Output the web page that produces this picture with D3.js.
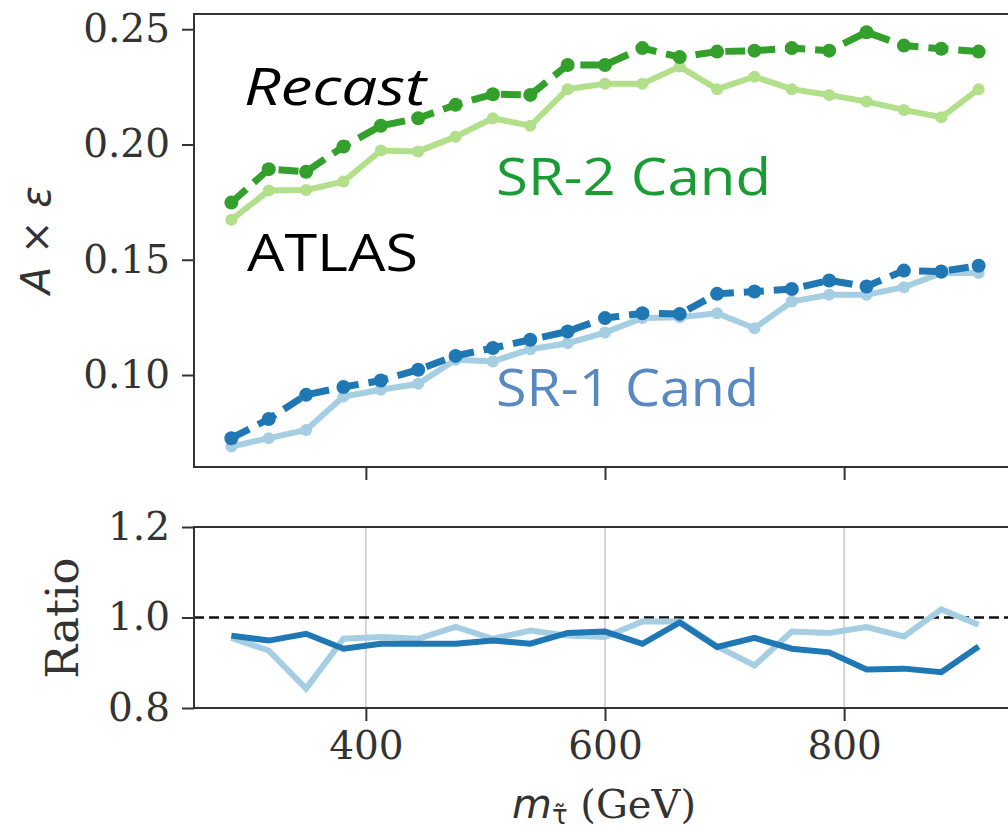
<!DOCTYPE html>
<html>
<head>
<meta charset="utf-8">
<script src="https://cdn.jsdelivr.net/npm/d3@7"></script>
<style>
  body { margin: 0; background: #fff; }
  svg { display: block; }
  .tick text { font-family: "DejaVu Serif", serif; font-size: 39px; fill: #333; }
  .tick line { stroke: #333; stroke-width: 2; }
  .domain { display: none; }
</style>
</head>
<body>
<div id="chart"></div>
<script>
// stau mass points (GeV)
const mass = [287.5, 318.75, 350, 381.25, 412.5, 443.75, 475, 506.25, 537.5, 568.75, 600,
  631.25, 662.5, 693.75, 725, 756.25, 787.5, 818.75, 850, 881.25, 912.5];

// A x eps
const sr2Recast = [0.1748, 0.1893, 0.1882, 0.1991, 0.2081, 0.2114, 0.2172, 0.2218, 0.2215, 0.2345, 0.2345,
  0.2418, 0.2379, 0.2403, 0.2407, 0.2418, 0.2407, 0.2487, 0.2429, 0.2415, 0.2403];
const sr2Atlas = [0.1673, 0.1800, 0.1803, 0.1839, 0.1974, 0.1970, 0.2034, 0.2114, 0.2081, 0.2240, 0.2263,
  0.2263, 0.2338, 0.2240, 0.2294, 0.2240, 0.2215, 0.2186, 0.2150, 0.2118, 0.2240];
const sr1Recast = [0.0726, 0.0809, 0.0914, 0.0948, 0.0976, 0.1023, 0.1083, 0.1117, 0.1153, 0.1189, 0.1247,
  0.1268, 0.1265, 0.1352, 0.1362, 0.1373, 0.1410, 0.1384, 0.1453, 0.1449, 0.1474];
const sr1Atlas = [0.0690, 0.0726, 0.0762, 0.0907, 0.0936, 0.0962, 0.1066, 0.1059, 0.1112, 0.1138, 0.1184,
  0.1247, 0.1251, 0.1268, 0.1203, 0.1319, 0.1348, 0.1348, 0.1381, 0.1442, 0.1442];

// ratio panel
const ratioSr2 = [0.960, 0.949, 0.964, 0.931, 0.942, 0.942, 0.942, 0.949, 0.942, 0.966, 0.969,
  0.942, 0.989, 0.935, 0.955, 0.931, 0.923, 0.885, 0.887, 0.879, 0.936];
const ratioSr1 = [0.955, 0.927, 0.843, 0.953, 0.957, 0.953, 0.979, 0.953, 0.971, 0.960, 0.957,
  0.991, 0.991, 0.936, 0.894, 0.969, 0.966, 0.979, 0.958, 1.018, 0.984];

const xTicks = [400, 600, 800];
const yTicks = [0.10, 0.15, 0.20, 0.25];
const rTicks = [0.8, 1.0, 1.2];

const svg = d3.select("#chart")
  .append("svg")
  .attr("width", 1008)
  .attr("height", 832);

const left = 194, right = 1016;
const x = d3.scaleLinear().domain([256.25, 943.75]).range([left, right]);
const y = d3.scaleLinear().domain([0.0601, 0.2566]).range([467, 14]);
const yr = d3.scaleLinear().domain([0.8, 1.2]).range([708, 527]);

// grid in ratio panel
svg.append("g")
  .selectAll("line")
  .data(xTicks)
  .enter().append("line")
  .attr("x1", d => x(d)).attr("x2", d => x(d))
  .attr("y1", yr(0.8)).attr("y2", yr(1.2))
  .attr("stroke", "#c8c8c8")
  .attr("stroke-width", 1.5);

// axes
svg.append("g").attr("transform", `translate(${left},0)`)
  .call(d3.axisLeft(y).tickValues(yTicks).tickFormat(d3.format(".2f")).tickSize(12).tickPadding(12));
svg.append("g").attr("transform", `translate(0,467)`)
  .call(d3.axisBottom(x).tickValues(xTicks).tickFormat("").tickSize(13));
svg.append("g").attr("transform", `translate(${left},0)`)
  .call(d3.axisLeft(yr).tickValues(rTicks).tickFormat(d3.format(".1f")).tickSize(12).tickPadding(12));
svg.append("g").attr("transform", `translate(0,708)`)
  .call(d3.axisBottom(x).tickValues(xTicks).tickFormat(d3.format("d")).tickSize(13).tickPadding(10));

// dashed reference line
svg.append("line")
  .attr("x1", left).attr("x2", right)
  .attr("y1", yr(1)).attr("y2", yr(1))
  .attr("stroke", "#111")
  .attr("stroke-width", 2.5)
  .attr("stroke-dasharray", "10,5");

const line = d3.line().x((d, i) => x(mass[i])).y(d => y(d));
const rline = d3.line().x((d, i) => x(mass[i])).y(d => yr(d));

function series(vals, color, dashed) {
  svg.append("path")
    .datum(vals)
    .attr("d", line)
    .attr("fill", "none")
    .attr("stroke", color)
    .attr("stroke-width", dashed ? 7 : 6)
    .attr("stroke-dasharray", dashed ? "20,10" : null);
  svg.append("g")
    .selectAll("circle")
    .data(vals)
    .enter().append("circle")
    .attr("cx", (d, i) => x(mass[i]))
    .attr("cy", d => y(d))
    .attr("r", dashed ? 7 : 6)
    .attr("fill", color);
}

series(sr2Atlas, "#b2df8a", false);
series(sr1Atlas, "#a6cee3", false);
series(sr2Recast, "#33a02c", true);
series(sr1Recast, "#1f78b4", true);

svg.append("path").datum(ratioSr1).attr("d", rline)
  .attr("fill", "none").attr("stroke", "#a6cee3").attr("stroke-width", 6);
svg.append("path").datum(ratioSr2).attr("d", rline)
  .attr("fill", "none").attr("stroke", "#1f78b4").attr("stroke-width", 6);

// panel frames (right edge falls outside the picture)
svg.append("rect").attr("x", left).attr("y", 14).attr("width", right - left).attr("height", 453)
  .attr("fill", "none").attr("stroke", "#333").attr("stroke-width", 2);
svg.append("rect").attr("x", left).attr("y", 527).attr("width", right - left).attr("height", 181)
  .attr("fill", "none").attr("stroke", "#333").attr("stroke-width", 2);

// annotations
const ann = (txt, tx, ty, w, color, italic) => svg.append("text")
  .attr("x", tx).attr("y", ty)
  .attr("textLength", w).attr("lengthAdjust", "spacingAndGlyphs")
  .style("font-family", "'Open Sans', sans-serif")
  .style("font-size", "52px")
  .style("font-style", italic ? "italic" : "normal")
  .attr("fill", color)
  .text(txt);

ann("Recast", 244, 105, 182, "#000", true);
ann("ATLAS", 247, 271, 171, "#000", false);
ann("SR-2 Cand", 496, 195, 275, "#1a9c34", false);
ann("SR-1 Cand", 496, 406, 263, "#5a89c2", false);

// axis labels
svg.append("text")
  .attr("transform", "translate(50,240)rotate(-90)")
  .attr("text-anchor", "middle")
  .style("font-family", "'DejaVu Sans', sans-serif")
  .style("font-size", "40px")
  .attr("fill", "#333")
  .html("<tspan font-style='italic'>A</tspan> × <tspan font-style='italic'>ε</tspan>");

svg.append("text")
  .attr("transform", "translate(78,618)rotate(-90)")
  .attr("text-anchor", "middle")
  .style("font-family", "'DejaVu Serif', serif")
  .style("font-size", "45px")
  .attr("fill", "#333")
  .text("Ratio");

const xl = svg.append("text")
  .attr("x", 604).attr("y", 818)
  .attr("text-anchor", "middle")
  .attr("fill", "#333");
xl.append("tspan")
  .style("font-family", "'DejaVu Sans', sans-serif").style("font-style", "italic").style("font-size", "41px")
  .text("m");
xl.append("tspan")
  .attr("dy", 6)
  .style("font-family", "'DejaVu Sans', sans-serif").style("font-size", "26px")
  .text("τ̃");
xl.append("tspan")
  .attr("dy", -6)
  .style("font-family", "'DejaVu Serif', serif").style("font-size", "40px")
  .text(" (GeV)");
</script>
</body>
</html>
